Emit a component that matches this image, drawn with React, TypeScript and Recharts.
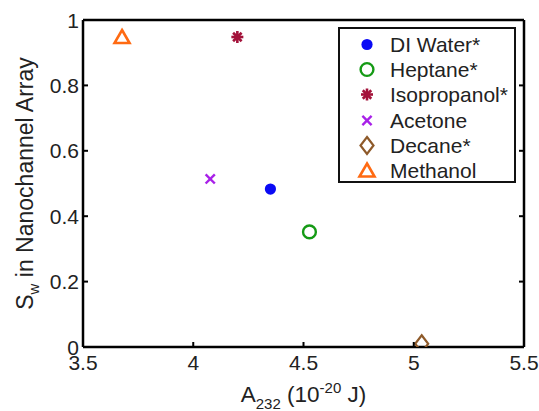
import React from 'react';
import { ScatterChart, Scatter, XAxis, YAxis, Legend } from 'recharts';

const seriesNames = ['DI Water*', 'Heptane*', 'Isopropanol*', 'Acetone', 'Decane*', 'Methanol'];
const xValues = [4.35, 4.527, 4.2, 4.077, 5.036, 3.677];
const yValues = [0.483, 0.352, 0.948, 0.514, 0.01, 0.948];
const seriesColors = ['#0a0af5', '#159a15', '#a3123a', '#a820e8', '#8e5a2a', '#ff6a12'];
const seriesShapes = ['dot', 'ring', 'star', 'cross', 'diamond', 'triangle'];
const xTicks = [3.5, 4, 4.5, 5, 5.5];
const yTicks = [0, 0.2, 0.4, 0.6, 0.8, 1];

const FONT = 'Arial, "Liberation Sans", sans-serif';
const FS = 21;

function Marker({ kind, color, cx, cy }: { kind: string; color: string; cx: number; cy: number }) {
  switch (kind) {
    case 'dot':
      return <circle cx={cx} cy={cy} r={5.6} fill={color} />;
    case 'ring':
      return <circle cx={cx} cy={cy} r={6.4} fill="none" stroke={color} strokeWidth={2.4} />;
    case 'star': {
      const r = 6;
      const lines = [0, 45, 90, 135].map((a) => {
        const rad = (a * Math.PI) / 180;
        const dx = r * Math.cos(rad);
        const dy = r * Math.sin(rad);
        return <line key={a} x1={cx - dx} y1={cy - dy} x2={cx + dx} y2={cy + dy} stroke={color} strokeWidth={2.6} />;
      });
      return <g>{lines}<circle cx={cx} cy={cy} r={2.5} fill={color} /></g>;
    }
    case 'cross': {
      const r = 4.6;
      return (
        <g stroke={color} strokeWidth={2.4}>
          <line x1={cx - r} y1={cy - r} x2={cx + r} y2={cy + r} />
          <line x1={cx - r} y1={cy + r} x2={cx + r} y2={cy - r} />
        </g>
      );
    }
    case 'diamond':
      return (
        <polygon
          points={`${cx},${cy - 8.5} ${cx + 6.5},${cy} ${cx},${cy + 8.5} ${cx - 6.5},${cy}`}
          fill="none"
          stroke={color}
          strokeWidth={2.2}
        />
      );
    case 'triangle':
      return (
        <polygon
          points={`${cx},${cy - 7} ${cx + 7.5},${cy + 6} ${cx - 7.5},${cy + 6}`}
          fill="none"
          stroke={color}
          strokeWidth={2.6}
          strokeLinejoin="miter"
        />
      );
    default:
      return null;
  }
}

const BottomTick = (props: any) => {
  const { x, y, payload } = props;
  return (
    <g>
      <line x1={x} x2={x} y1={y} y2={y - 5} stroke="#000" strokeWidth={2} />
      <text x={x} y={y + 23} textAnchor="middle" fontSize={FS} fontFamily={FONT} fill="#222">
        {String(payload.value)}
      </text>
    </g>
  );
};

const TopTick = (props: any) => {
  const { x, y } = props;
  return <line x1={x} x2={x} y1={y} y2={y + 5} stroke="#000" strokeWidth={2} />;
};

const LeftTick = (props: any) => {
  const { x, y, payload } = props;
  return (
    <g>
      <line x1={x} x2={x + 5} y1={y} y2={y} stroke="#000" strokeWidth={2} />
      <text x={x - 4} y={y + 7.5} textAnchor="end" fontSize={FS} fontFamily={FONT} fill="#222">
        {String(payload.value)}
      </text>
    </g>
  );
};

const RightTick = (props: any) => {
  const { x, y } = props;
  return <line x1={x} x2={x - 5} y1={y} y2={y} stroke="#000" strokeWidth={2} />;
};

const YLabel = (props: any) => {
  const vb = props.viewBox || {};
  const cy = (vb.y ?? 20) + (vb.height ?? 327) / 2;
  const cx = 33;
  return (
    <text
      transform={`translate(${cx},${cy}) rotate(-90)`}
      textAnchor="middle"
      fontSize={23}
      fontFamily={FONT}
      fill="#222"
    >
      <tspan>S</tspan>
      <tspan fontSize={15} dy={6}>w</tspan>
      <tspan dy={-6}> in Nanochannel Array</tspan>
    </text>
  );
};

const XLabel = (props: any) => {
  const vb = props.viewBox || {};
  const cx = (vb.x ?? 83) + (vb.width ?? 441) / 2;
  return (
    <text x={cx} y={402} textAnchor="middle" fontSize={22.5} fontFamily={FONT} fill="#222">
      <tspan>A</tspan>
      <tspan fontSize={15} dy={7}>232</tspan>
      <tspan dy={-7}> (10</tspan>
      <tspan fontSize={15} dy={-9}>-20</tspan>
      <tspan dy={9}> J)</tspan>
    </text>
  );
};

const LegendContent = () => (
  <div
    style={{
      width: 178,
      height: 156,
      border: '2px solid #111',
      background: '#fff',
      boxSizing: 'border-box',
      paddingTop: 3,
    }}
  >
    {seriesNames.map((name, i) => (
      <div key={name} style={{ display: 'flex', alignItems: 'center', height: 25.2 }}>
        <svg width={50} height={25} style={{ flex: 'none' }}>
          <Marker kind={seriesShapes[i]} color={seriesColors[i]} cx={27} cy={12.5} />
        </svg>
        <span style={{ fontFamily: FONT, fontSize: FS, color: '#222', lineHeight: '25px' }}>{name}</span>
      </div>
    ))}
  </div>
);

export default function App() {
  return (
    <div style={{ position: 'absolute', left: 0, top: 0, background: '#fff' }}>
      <ScatterChart width={539} height={411} margin={{ top: 15, right: 10, bottom: 14, left: 23 }}>
        <XAxis
          xAxisId="b"
          type="number"
          dataKey="x"
          domain={[3.5, 5.5]}
          ticks={xTicks}
          interval={0}
          height={50}
          tickSize={0}
          tickMargin={0}
          tickLine={false}
          tick={<BottomTick />}
          axisLine={{ stroke: '#000', strokeWidth: 2.5 }}
          allowDataOverflow
          label={<XLabel />}
        />
        <XAxis
          xAxisId="t"
          orientation="top"
          type="number"
          domain={[3.5, 5.5]}
          ticks={xTicks}
          interval={0}
          height={5}
          tickSize={0}
          tickMargin={0}
          tickLine={false}
          tick={<TopTick />}
          axisLine={{ stroke: '#000', strokeWidth: 2.5 }}
          allowDataOverflow
        />
        <YAxis
          yAxisId="l"
          type="number"
          dataKey="y"
          domain={[0, 1]}
          ticks={yTicks}
          interval={0}
          width={60}
          tickSize={0}
          tickMargin={0}
          tickLine={false}
          tick={<LeftTick />}
          axisLine={{ stroke: '#000', strokeWidth: 2.5 }}
          allowDataOverflow
          label={<YLabel />}
        />
        <YAxis
          yAxisId="r"
          orientation="right"
          type="number"
          domain={[0, 1]}
          ticks={yTicks}
          interval={0}
          width={5}
          tickSize={0}
          tickMargin={0}
          tickLine={false}
          tick={<RightTick />}
          axisLine={{ stroke: '#000', strokeWidth: 2.5 }}
          allowDataOverflow
        />
        <Legend
          layout="vertical"
          align="center"
          verticalAlign="middle"
          content={<LegendContent />}
          wrapperStyle={{ position: 'absolute', top: 27, left: 338, width: 178, height: 156 }}
        />
        {seriesNames.map((name, i) => (
          <Scatter
            key={name}
            name={name}
            xAxisId="b"
            yAxisId="l"
            data={[{ x: xValues[i], y: yValues[i] }]}
            isAnimationActive={false}
            shape={(p: any) => <Marker kind={seriesShapes[i]} color={seriesColors[i]} cx={p.cx} cy={p.cy} />}
          />
        ))}
      </ScatterChart>
    </div>
  );
}
